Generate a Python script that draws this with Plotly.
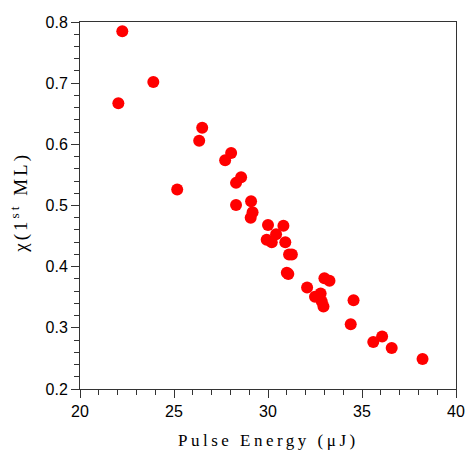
import plotly.graph_objects as go

pulse_energy = [22.25, 22.04, 23.9, 25.17, 26.34, 26.5, 27.72, 28.04, 28.3, 28.57,
                28.3, 29.1, 29.18, 29.08, 30.0, 29.93, 30.2, 30.43, 30.82, 30.92,
                31.12, 31.27, 31.0, 31.08, 32.08, 32.5, 32.8, 32.86, 32.95, 33.0,
                33.27, 34.55, 34.4, 35.6, 36.07, 36.58, 38.22]
chi = [0.785, 0.667, 0.702, 0.526, 0.606, 0.627, 0.574, 0.586, 0.537, 0.546,
       0.501, 0.507, 0.489, 0.480, 0.468, 0.444, 0.440, 0.453, 0.467, 0.440,
       0.420, 0.420, 0.390, 0.388, 0.366, 0.351, 0.356, 0.343, 0.335, 0.381,
       0.377, 0.345, 0.306, 0.277, 0.286, 0.267, 0.249]

x_ticks = [20, 25, 30, 35, 40]
y_ticks = [0.2, 0.3, 0.4, 0.5, 0.6, 0.7, 0.8]

fig = go.Figure()
fig.add_trace(go.Scatter(
    x=pulse_energy, y=chi, mode="markers",
    marker=dict(color="#ff0000", size=12, line=dict(width=0)),
    showlegend=False, cliponaxis=False,
))

axis_common = dict(
    showgrid=False, zeroline=False, showline=True, linecolor="#333333", linewidth=1,
    mirror=True, ticks="outside", ticklen=8, tickcolor="#333333", tickwidth=1,
    tickfont=dict(family="Liberation Sans, Arial", size=16, color="black"),
    automargin=False,
)

fig.update_xaxes(range=[20, 40], tickvals=x_ticks, ticktext=[str(v) for v in x_ticks],
                 minor=dict(dtick=1, ticklen=5, ticks="outside", tickcolor="#333333"),
                 **axis_common)
fig.update_yaxes(range=[0.2, 0.8], tickvals=y_ticks, ticktext=[f"{v:.1f}" for v in y_ticks],
                 minor=dict(dtick=0.02, ticklen=5, ticks="outside", tickcolor="#333333"),
                 **axis_common)

fig.add_annotation(
    text='<span style="letter-spacing:3.5px">Pulse Energy (μJ)</span>',
    xref="paper", yref="paper", x=0.5, y=-0.139, yanchor="middle", xanchor="center",
    showarrow=False, font=dict(family="Liberation Serif, Times New Roman", size=17, color="black"),
)
fig.add_annotation(
    text='<span style="letter-spacing:3px">χ(1<sup>st</sup> ML)</span>',
    xref="paper", yref="paper", x=-0.16, y=0.51, xanchor="center", yanchor="middle",
    textangle=-90, showarrow=False,
    font=dict(family="Liberation Serif, Times New Roman", size=19, color="black"),
)

fig.update_layout(
    width=466, height=456,
    margin=dict(l=79.5, r=9.5, t=22, b=67, autoexpand=False),
    paper_bgcolor="white", plot_bgcolor="white",
)

fig.write_html("out.html", config={"displayModeBar": False},
               post_script="document.body.style.margin='0';")
